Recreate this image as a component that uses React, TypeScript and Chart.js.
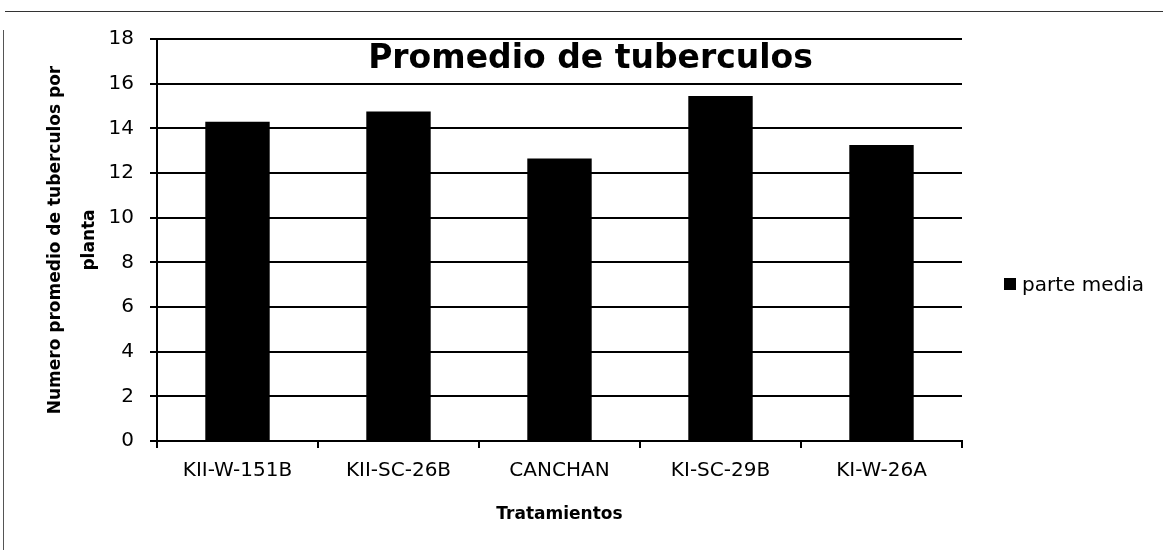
import React, { useEffect, useRef } from "react";
import { Chart, registerables } from "chart.js";

Chart.register(...registerables);

const categories = ["KII-W-151B", "KII-SC-26B", "CANCHAN", "KI-SC-29B", "KI-W-26A"];
const seriesLabel = "parte media";
const values = [14.3, 14.75, 12.65, 15.45, 13.25];
const chartTitle = "Promedio de tuberculos";
const yTitle = ["Numero promedio de tuberculos por", "planta"];
const xTitle = "Tratamientos";
const yMin = 0;
const yMax = 18;
const yStep = 2;

const FONT = "'DejaVu Sans', sans-serif";

const extrasPlugin = {
  id: "extras",
  afterDraw(chart: any) {
    const ctx = chart.ctx;
    ctx.save();
    // chart title
    ctx.fillStyle = "#000";
    ctx.font = `bold 33px ${FONT}`;
    ctx.textAlign = "center";
    ctx.textBaseline = "alphabetic";
    ctx.fillText(chartTitle, chart.width / 2 + 9, 68);
    // legend
    const ds = chart.data.datasets[0];
    ctx.fillStyle = ds.backgroundColor;
    ctx.fillRect(1004, 278, 12, 12);
    ctx.fillStyle = "#000";
    ctx.font = `20px ${FONT}`;
    ctx.textAlign = "left";
    ctx.fillText(ds.label, 1022, 291);
    ctx.restore();
  },
};

export default function App() {
  const ref = useRef<HTMLCanvasElement | null>(null);
  useEffect(() => {
    if (!ref.current) return;
    const chart = new Chart(ref.current, {
      type: "bar",
      data: {
        labels: categories,
        datasets: [
          {
            label: seriesLabel,
            data: values,
            backgroundColor: "#000",
            borderWidth: 0,
            barPercentage: 0.4,
            categoryPercentage: 1,
          },
        ],
      },
      options: {
        responsive: false,
        animation: false,
        layout: { padding: { left: 0, top: 39, right: 201, bottom: 0 } },
        plugins: {
          legend: { display: false },
          title: { display: false },
          tooltip: { enabled: false },
        },
        scales: {
          x: {
            offset: true,
            grid: {
              offset: true,
              drawOnChartArea: false,
              drawTicks: true,
              tickLength: 7,
              color: "#000",
              lineWidth: 2,
            },
            border: { display: true, color: "#000", width: 2 },
            ticks: {
              color: "#000",
              font: { family: FONT, size: 20 },
              padding: 11,
              maxRotation: 0,
              autoSkip: false,
            },
            title: {
              display: true,
              text: xTitle,
              color: "#000",
              font: { family: FONT, size: 17, weight: "bold" },
              padding: { top: 0, bottom: 25 },
            },
            afterFit: (s: any) => {
              s.height = 109;
            },
          },
          y: {
            min: yMin,
            max: yMax,
            grid: {
              color: "#000",
              lineWidth: 2,
              tickLength: 7,
            },
            border: { display: true, color: "#000", width: 2 },
            ticks: {
              stepSize: yStep,
              color: "#000",
              font: { family: FONT, size: 20 },
              padding: 16,
            },
            title: {
              display: true,
              text: yTitle,
              color: "#000",
              font: { family: FONT, size: 17, weight: "bold", lineHeight: 2 },
              padding: { top: 39, bottom: 0 },
            },
            afterFit: (s: any) => {
              s.width = 157;
            },
          },
        },
      },
      plugins: [extrasPlugin],
    });
    return () => chart.destroy();
  }, []);

  return (
    <div style={{ position: "absolute", left: 0, top: 0, width: 1163, height: 550, background: "#fff" }}>
      <canvas ref={ref} width={1163} height={550} style={{ position: "absolute", left: 0, top: 0 }} />
      <div style={{ position: "absolute", left: 5, top: 11, width: 1158, height: 0, borderTop: "1.5px solid #333" }} />
      <div style={{ position: "absolute", left: 3, top: 30, width: 0, height: 520, borderLeft: "1px solid #555" }} />
    </div>
  );
}
